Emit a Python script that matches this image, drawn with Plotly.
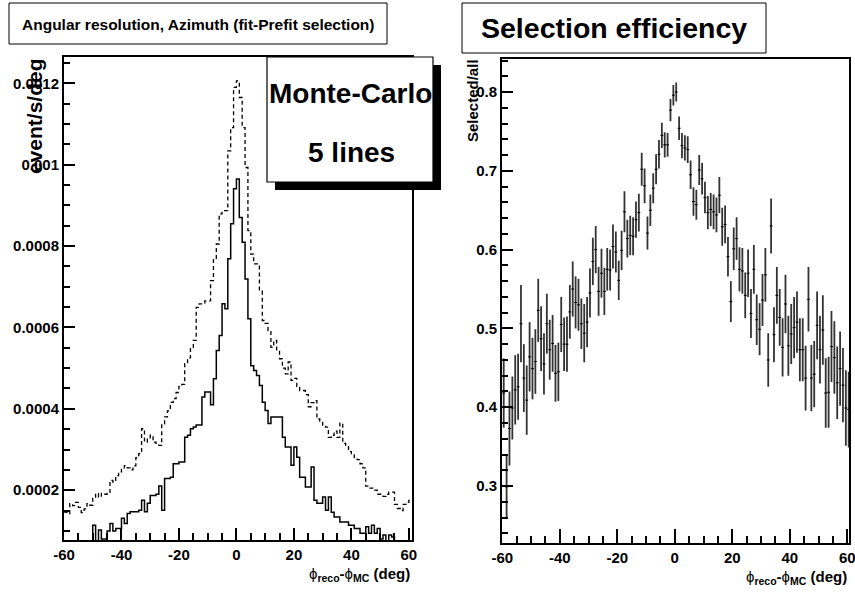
import numpy as np
import plotly.graph_objects as go

W, H = 855, 592

# ---------------- data ----------------
bin_low = -60.0      # first bin lower edge (deg)
bin_width = 1.0      # deg
rate_scale = 1e-4    # histogram values below are in units of 1e-4 event/s/deg

# solid histogram (fit-Prefit selection), 121 bins from -60 to 61 deg
solid_e4 = [
    0.60, 0.55, 0.62, 0.58, 0.65, 0.60, 0.68, 0.63, 0.70, 0.72,
    1.14, 0.76, 1.02, 0.80, 0.80, 1.00, 1.18, 1.00, 1.06, 1.06,
    1.31, 1.18, 1.43, 1.47, 1.47, 1.47, 1.51, 1.75, 1.47, 1.68,
    1.87, 1.87, 1.90, 2.10, 1.51, 2.29, 2.29, 2.32, 2.65, 2.65,
    2.69, 2.69, 3.30, 3.35, 3.51, 3.55, 3.60, 3.60, 4.29, 4.41,
    4.41, 4.10, 4.74, 5.43, 5.80, 6.58, 6.46, 7.69, 8.55, 9.41,
    9.65, 8.70, 8.09, 7.19, 6.21, 5.06, 4.94, 4.82, 4.57, 4.16,
    3.96, 3.64, 3.80, 3.80, 3.80, 3.80, 3.30, 3.06, 3.06, 2.61,
    3.06, 2.81, 2.32, 2.32, 2.08, 2.08, 2.57, 1.75, 1.68, 1.68,
    1.83, 1.51, 1.83, 1.46, 1.34, 1.34, 1.22, 1.22, 1.22, 1.14,
    1.14, 1.06, 1.06, 0.94, 0.94, 1.10, 0.94, 1.14, 0.94, 1.06,
    0.80, 0.90, 0.75, 0.90, 0.85, 0.72, 0.70, 0.65, 0.70, 0.68, 0.66,
]

# dashed histogram (all events)
dashed_e4 = [
    1.46, 1.42, 1.67, 1.62, 1.70, 1.58, 1.45, 1.54, 1.67, 1.63,
    1.80, 1.92, 1.83, 1.92, 1.90, 1.92, 2.24, 2.20, 2.36, 2.45,
    2.53, 2.60, 2.55, 2.50, 2.60, 2.80, 2.90, 3.51, 3.18, 3.27,
    3.35, 3.18, 3.15, 3.10, 3.63, 3.80, 3.95, 4.16, 4.25, 4.40,
    4.55, 4.60, 5.11, 5.25, 5.51, 5.68, 6.49, 6.58, 6.58, 6.65,
    6.65, 7.15, 7.68, 8.05, 8.79, 8.87, 8.87, 10.34, 10.91, 11.90,
    12.06, 11.65, 10.91, 9.93, 8.38, 7.80, 7.56, 7.56, 6.90, 6.17,
    6.10, 5.92, 5.51, 5.68, 5.43, 5.23, 5.00, 4.86, 5.15, 4.70,
    4.75, 4.55, 4.45, 4.45, 4.35, 4.05, 4.15, 4.20, 3.75, 3.70,
    3.60, 3.55, 3.30, 3.35, 3.45, 3.30, 3.65, 3.15, 3.10, 2.95,
    2.90, 2.80, 2.75, 2.65, 2.55, 2.10, 2.05, 2.05, 2.00, 1.90,
    1.90, 1.85, 1.90, 1.95, 1.95, 1.65, 1.55, 1.50, 1.65, 1.70, 1.75,
]

# selection efficiency (selected/all) per bin and its error
efficiency = [
    0.418, 0.299, 0.373, 0.399, 0.422, 0.426, 0.506, 0.437, 0.409, 0.464,
    0.449, 0.458, 0.523, 0.487, 0.455, 0.506, 0.473, 0.481, 0.443, 0.445,
    0.505, 0.480, 0.480, 0.521, 0.550, 0.533, 0.530, 0.506, 0.494, 0.508,
    0.545, 0.585, 0.600, 0.547, 0.570, 0.547, 0.575, 0.574, 0.604, 0.597,
    0.561, 0.599, 0.648, 0.614, 0.618, 0.617, 0.638, 0.647, 0.702, 0.681,
    0.621, 0.650, 0.678, 0.702, 0.721, 0.745, 0.733, 0.733, 0.777, 0.796,
    0.800, 0.754, 0.732, 0.729, 0.727, 0.695, 0.661, 0.657, 0.701, 0.690,
    0.666, 0.647, 0.651, 0.648, 0.644, 0.669, 0.629, 0.632, 0.591, 0.534,
    0.601, 0.614, 0.575, 0.573, 0.542, 0.570, 0.519, 0.575, 0.511, 0.499,
    0.536, 0.568, 0.460, 0.630, 0.492, 0.542, 0.514, 0.476, 0.531, 0.478,
    0.493, 0.501, 0.508, 0.473, 0.473, 0.437, 0.537, 0.437, 0.442, 0.504,
    0.473, 0.498, 0.418, 0.419, 0.477, 0.463, 0.431, 0.449, 0.428, 0.399, 0.397,
]
efficiency_err = [
    0.044, 0.041, 0.047, 0.040, 0.044, 0.042, 0.049, 0.043, 0.044, 0.044,
    0.039, 0.041, 0.040, 0.041, 0.039, 0.038, 0.038, 0.036, 0.036, 0.037,
    0.035, 0.034, 0.035, 0.034, 0.035, 0.033, 0.033, 0.032, 0.037, 0.032,
    0.031, 0.030, 0.030, 0.031, 0.031, 0.030, 0.027, 0.026, 0.028, 0.026,
    0.025, 0.025, 0.026, 0.024, 0.025, 0.024, 0.023, 0.024, 0.021, 0.022,
    0.021, 0.020, 0.019, 0.019, 0.018, 0.016, 0.016, 0.015, 0.014, 0.013,
    0.012, 0.015, 0.016, 0.016, 0.017, 0.018, 0.018, 0.019, 0.019, 0.020,
    0.020, 0.021, 0.021, 0.022, 0.022, 0.023, 0.024, 0.024, 0.025, 0.026,
    0.027, 0.027, 0.028, 0.029, 0.029, 0.030, 0.031, 0.031, 0.032, 0.033,
    0.033, 0.034, 0.034, 0.035, 0.035, 0.036, 0.036, 0.037, 0.037, 0.038,
    0.038, 0.039, 0.039, 0.040, 0.040, 0.041, 0.041, 0.042, 0.042, 0.043,
    0.043, 0.044, 0.044, 0.045, 0.045, 0.046, 0.046, 0.047, 0.047, 0.048, 0.048,
]

x_tick_vals = [-60, -40, -20, 0, 20, 40, 60]
x_tick_text = ["-60", "-40", "-20", "0", "20", "40", "60"]
left_y_tick_vals = [0.0002, 0.0004, 0.0006, 0.0008, 0.0010, 0.0012]
left_y_tick_text = ["0.0002", "0.0004", "0.0006", "0.0008", "0.001", "0.0012"]
right_y_tick_vals = [0.3, 0.4, 0.5, 0.6, 0.7, 0.8]
right_y_tick_text = ["0.3", "0.4", "0.5", "0.6", "0.7", "0.8"]

left_title = "Angular resolution, Azimuth (fit-Prefit selection)"
right_title = "Selection efficiency"
box_lines = ["Monte-Carlo", "5 lines"]

# ---------------- helpers (pixel -> paper) ----------------
def px(x):
    return x / W

def py(y):
    return 1 - y / H

FONT = "Liberation Sans, Arial, Helvetica, sans-serif"

n_bins = len(solid_e4)
edges = bin_low + bin_width * np.arange(n_bins + 1)
centers = edges[:-1] + bin_width / 2

solid = np.array(solid_e4) * rate_scale
dashed = np.array(dashed_e4) * rate_scale

fig = go.Figure()
fig.add_trace(go.Scatter(
    x=edges, y=np.append(dashed, dashed[-1]), mode="lines",
    line=dict(shape="hv", color="black", width=1.3, dash="4px,3px"),
    xaxis="x", yaxis="y", showlegend=False, hoverinfo="skip"))
fig.add_trace(go.Scatter(
    x=edges, y=np.append(solid, solid[-1]), mode="lines",
    line=dict(shape="hv", color="black", width=1.5),
    xaxis="x", yaxis="y", showlegend=False, hoverinfo="skip"))
fig.add_trace(go.Scatter(
    x=centers, y=efficiency, mode="markers",
    marker=dict(size=1, color="black"),
    error_y=dict(type="data", array=efficiency_err, width=0, thickness=1.8, color="#333333"),
    error_x=dict(type="constant", value=bin_width / 2, width=0, thickness=1, color="black"),
    xaxis="x2", yaxis="y2", showlegend=False, hoverinfo="skip"))

tickfont = dict(family=FONT, size=15, color="black", weight="bold")

common = dict(showgrid=False, zeroline=False, showline=True, linecolor="black",
              linewidth=2, mirror=True, ticks="inside", tickcolor="black",
              tickwidth=1.5, tickfont=tickfont, tickmode="array", automargin=False,
              ticklabeloverflow="allow")

L = dict(x0=64, x1=412.3, y0=57, y1=540)
R = dict(x0=502, x1=849.3, y0=59, y1=543)

fig.update_layout(
    template="none",
    width=W, height=H, autosize=False,
    margin=dict(l=0, r=0, t=0, b=0, autoexpand=False),
    paper_bgcolor="white", plot_bgcolor="white",
    xaxis=dict(domain=[px(L["x0"]), px(L["x1"])], range=[-60.0, 61.2], anchor="y",
               tickvals=x_tick_vals, ticktext=x_tick_text, ticklen=12,
               minor=dict(tickmode="linear", tick0=-60, dtick=5, ticks="inside", ticklen=7,
                          tickwidth=1.5, tickcolor="black"),
               **common),
    yaxis=dict(domain=[py(L["y1"]), py(L["y0"])], range=[0.0000776, 0.0012645], anchor="x",
               tickvals=left_y_tick_vals, ticktext=left_y_tick_text, ticklen=11,
               minor=dict(tickmode="linear", tick0=0, dtick=0.00005, ticks="inside", ticklen=6,
                          tickwidth=1.5, tickcolor="black"),
               **common),
    xaxis2=dict(domain=[px(R["x0"]), px(R["x1"])], range=[-60.1, 60.7], anchor="y2",
                tickvals=x_tick_vals, ticktext=x_tick_text, ticklen=14,
                minor=dict(tickmode="linear", tick0=-60, dtick=5, ticks="inside", ticklen=7,
                           tickwidth=1.5, tickcolor="black"),
                **common),
    yaxis2=dict(domain=[py(R["y1"]), py(R["y0"])], range=[0.2277, 0.8419], anchor="x2",
                tickvals=right_y_tick_vals, ticktext=right_y_tick_text, ticklen=11,
                minor=dict(tickmode="linear", tick0=0, dtick=0.02, ticks="inside", ticklen=6,
                           tickwidth=1.5, tickcolor="black"),
                **common),
)

shapes = []
annotations = []

# title boxes
shapes.append(dict(type="rect", xref="paper", yref="paper", x0=px(9), x1=px(387), y0=py(44), y1=py(3),
                   line=dict(color="black", width=1), fillcolor="white", layer="above"))
annotations.append(dict(xref="paper", yref="paper", x=px(198), y=py(24), text="<b>%s</b>" % left_title,
                        showarrow=False, xanchor="center", yanchor="middle",
                        font=dict(family=FONT, size=15.5, color="black")))
shapes.append(dict(type="rect", xref="paper", yref="paper", x0=px(462), x1=px(766), y0=py(53), y1=py(3),
                   line=dict(color="black", width=1), fillcolor="white", layer="above"))
annotations.append(dict(xref="paper", yref="paper", x=px(614), y=py(28), text="<b>%s</b>" % right_title,
                        showarrow=False, xanchor="center", yanchor="middle",
                        font=dict(family=FONT, size=28.5, color="black")))

# Monte-Carlo box with shadow
shapes.append(dict(type="rect", xref="paper", yref="paper", x0=px(275), x1=px(441), y0=py(190), y1=py(65),
                   line=dict(color="black", width=0), fillcolor="black", layer="above"))
shapes.append(dict(type="rect", xref="paper", yref="paper", x0=px(267), x1=px(433), y0=py(182), y1=py(57),
                   line=dict(color="black", width=1.2), fillcolor="white", layer="above"))
annotations.append(dict(xref="paper", yref="paper", x=px(350), y=py(93), text="<b>%s</b>" % box_lines[0],
                        showarrow=False, xanchor="center", yanchor="middle",
                        font=dict(family=FONT, size=28, color="black")))
annotations.append(dict(xref="paper", yref="paper", x=px(351), y=py(152), text="<b>%s</b>" % box_lines[1],
                        showarrow=False, xanchor="center", yanchor="middle",
                        font=dict(family=FONT, size=28, color="black")))

# axis titles
xtitle = "ϕ<sub><b>reco</b></sub><b>-</b>ϕ<sub><b>MC</b></sub><b> (deg)</b>"
annotations.append(dict(xref="paper", yref="paper", x=px(412), y=py(574), text=xtitle,
                        showarrow=False, xanchor="right", yanchor="middle",
                        font=dict(family=FONT, size=15, color="black")))
annotations.append(dict(xref="paper", yref="paper", x=px(849), y=py(577), text=xtitle,
                        showarrow=False, xanchor="right", yanchor="middle",
                        font=dict(family=FONT, size=15, color="black")))
annotations.append(dict(xref="paper", yref="paper", x=px(34), y=py(116), text="<b>event/s/deg</b>",
                        textangle=-90, showarrow=False, xanchor="center", yanchor="middle",
                        font=dict(family=FONT, size=21, color="black")))
annotations.append(dict(xref="paper", yref="paper", x=px(472), y=py(101), text="<b>Selected/all</b>",
                        textangle=-90, showarrow=False, xanchor="center", yanchor="middle",
                        font=dict(family=FONT, size=15, color="black")))

fig.update_layout(shapes=shapes, annotations=annotations)
fig.write_html("out.html", config={"displayModeBar": False},
               post_script="document.body.style.margin='0';document.body.style.overflow='hidden';")
